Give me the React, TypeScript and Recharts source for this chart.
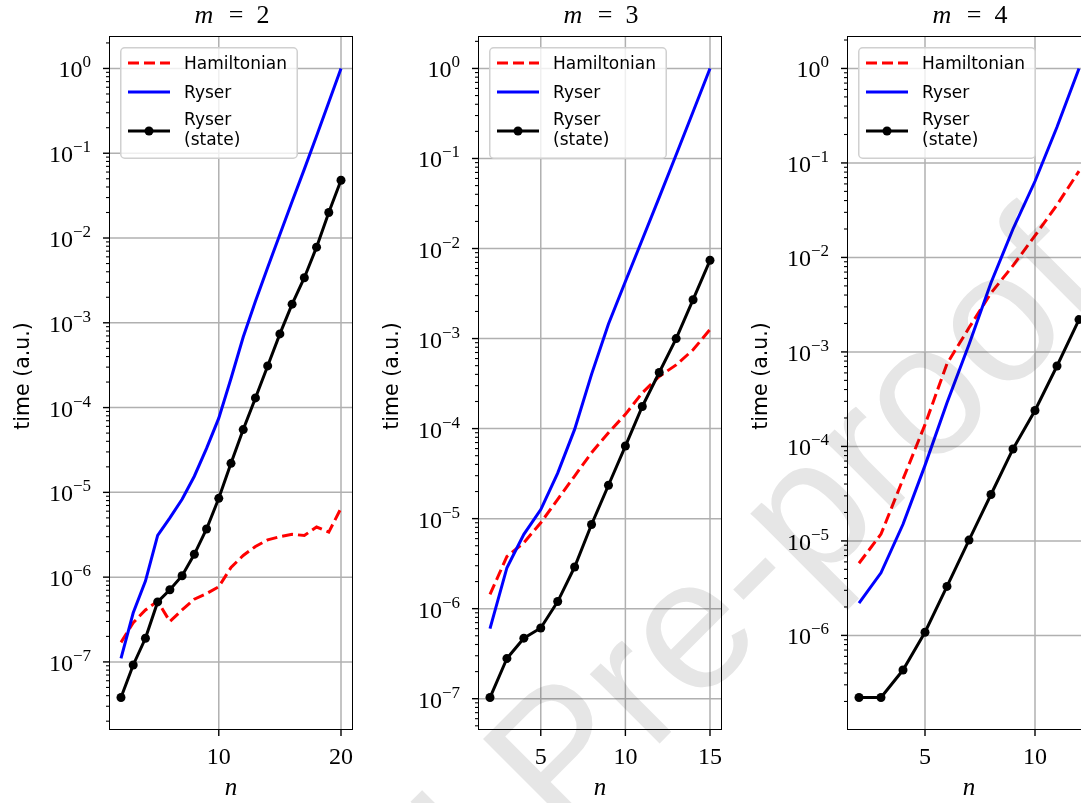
import React from 'react';
import { LineChart, Line, XAxis, YAxis, CartesianGrid, Legend } from 'recharts';

// n values per panel
const nM2 = [2, 3, 4, 5, 6, 7, 8, 9, 10, 11, 12, 13, 14, 15, 16, 17, 18, 19, 20];
const nM3 = [2, 3, 4, 5, 6, 7, 8, 9, 10, 11, 12, 13, 14, 15];
const nM4 = [2, 3, 4, 5, 6, 7, 8, 9, 10, 11, 12];

// m = 2
const hamM2 = [1.7e-7, 2.9e-7, 4.1e-7, 5.2e-7, 3.0e-7, 4.1e-7, 5.5e-7, 6.4e-7, 7.7e-7, 1.3e-6, 1.8e-6, 2.3e-6, 2.75e-6, 3.0e-6, 3.2e-6, 3.1e-6, 3.9e-6, 3.4e-6, 6.5e-6];
const ryserM2 = [1.1e-7, 3.8e-7, 9e-7, 3.1e-6, 5e-6, 8.3e-6, 1.55e-5, 3.3e-5, 7.5e-5, 2.2e-4, 6.8e-4, 1.8e-3, 4.5e-3, 1.1e-2, 2.7e-2, 6.5e-2, 0.16, 0.4, 1.0];
const stateM2 = [3.8e-8, 9.2e-8, 1.9e-7, 5.1e-7, 7.1e-7, 1.04e-6, 1.86e-6, 3.7e-6, 8.5e-6, 2.2e-5, 5.5e-5, 1.3e-4, 3.1e-4, 7.4e-4, 1.66e-3, 3.4e-3, 7.8e-3, 2.0e-2, 4.8e-2];

// m = 3
const hamM3 = [1.44e-6, 3.8e-6, 5.4e-6, 9.0e-6, 1.64e-5, 2.97e-5, 5.4e-5, 9.0e-5, 1.44e-4, 2.5e-4, 3.8e-4, 5.1e-4, 7.5e-4, 1.26e-3];
const ryserM3 = [6.0e-7, 2.85e-6, 6.7e-6, 1.26e-5, 3.2e-5, 9.8e-5, 4e-4, 1.45e-3, 4.3e-3, 1.26e-2, 3.7e-2, 0.11, 0.33, 1.0];
const stateM3 = [1.03e-7, 2.8e-7, 4.7e-7, 6.1e-7, 1.2e-6, 2.9e-6, 8.6e-6, 2.35e-5, 6.4e-5, 1.76e-4, 4.2e-4, 1.0e-3, 2.7e-3, 7.4e-3];

// m = 4
const hamM4 = [5.8e-6, 1.18e-5, 4.5e-5, 1.7e-4, 7.5e-4, 1.8e-3, 4.2e-3, 8.2e-3, 1.7e-2, 3.6e-2, 8.2e-2];
const ryserM4 = [2.2e-6, 4.6e-6, 1.5e-5, 6.3e-5, 2.9e-4, 1.2e-3, 5.4e-3, 2.0e-2, 6.4e-2, 0.24, 1.0];
const stateM4 = [2.2e-7, 2.2e-7, 4.3e-7, 1.08e-6, 3.3e-6, 1.02e-5, 3.1e-5, 9.4e-5, 2.4e-4, 7.1e-4, 2.2e-3];

const xTicksM2 = [10, 20];
const xTicksM3 = [5, 10, 15];
const xTicksM4 = [5, 10];

const seriesNames = ['Hamiltonian', 'Ryser', 'Ryser\n(state)'];

const SERIF = '"Liberation Serif", "DejaVu Serif", serif';
const SANS = '"DejaVu Sans", "Noto Sans", sans-serif';

const PLOT_W = 242;
const PLOT_H = 692;
const PLOT_TOP = 37;
const AXIS_W = 100;
const X_AXIS_H = 74;
const CHART_W = AXIS_W + PLOT_W + 20;
const CHART_H = PLOT_TOP + PLOT_H + X_AXIS_H;

function logDomain(values: number[]): [number, number] {
  const logs = values.map((v) => Math.log10(v));
  const lo = Math.min(...logs);
  const hi = Math.max(...logs);
  const pad = 0.05 * (hi - lo);
  return [10 ** (lo - pad), 10 ** (hi + pad)];
}

function linDomain(values: number[]): [number, number] {
  const lo = Math.min(...values);
  const hi = Math.max(...values);
  const pad = 0.05 * (hi - lo);
  return [lo - pad, hi + pad];
}

function logTicks([lo, hi]: [number, number]) {
  const out: number[] = [];
  for (let k = Math.floor(Math.log10(lo)); k <= Math.ceil(Math.log10(hi)); k++) {
    for (let m = 1; m < 10; m++) {
      const v = m * 10 ** k;
      if (v >= lo && v <= hi) out.push(v);
    }
  }
  return out;
}

function isDecade(v: number) {
  const e = Math.round(Math.log10(v));
  return Math.abs(v / 10 ** e - 1) < 1e-9;
}

const YTick = (props: any) => {
  const { y, payload } = props;
  const v = payload.value;
  const major = isDecade(v);
  const e = Math.round(Math.log10(v));
  return (
    <g>
      <line x1={AXIS_W} x2={AXIS_W - (major ? 7 : 4)} y1={y} y2={y} stroke="#000" strokeWidth={major ? 1.4 : 1.1} />
      {major && (
        <text x={AXIS_W - 19} y={y + 9} textAnchor="end" fontFamily={SERIF} fontSize={24} fill="#000">
          10
          <tspan dy={-10} fontSize={17}>{e < 0 ? '\u2212' + -e : String(e)}</tspan>
        </text>
      )}
    </g>
  );
};

const XTick = (props: any) => {
  const { x, payload } = props;
  const y0 = PLOT_TOP + PLOT_H;
  return (
    <g>
      <line x1={x} x2={x} y1={y0} y2={y0 + 7} stroke="#000" strokeWidth={1.4} />
      <text x={x} y={y0 + 35} textAnchor="middle" fontFamily={SERIF} fontSize={24} fill="#000">
        {payload.value}
      </text>
    </g>
  );
};

const LegendBox = () => {
  const rows = [
    { y: 16, color: '#ff0000', dash: '11 5', dot: false },
    { y: 45, color: '#0000ff', dash: undefined, dot: false },
    { y: 84, color: '#000000', dash: undefined, dot: true },
  ];
  return (
    <svg width={178} height={112} style={{ display: 'block' }}>
      <rect x={0.75} y={0.75} width={176.5} height={110.5} rx={4} fill="rgba(255,255,255,0.8)" stroke="#d0d0d0" strokeWidth={1.5} />
      {rows.map((r, i) => (
        <g key={i}>
          <line x1={8} x2={50} y1={r.y} y2={r.y} stroke={r.color} strokeWidth={3} strokeDasharray={r.dash} />
          {r.dot && <circle cx={29} cy={r.y} r={4.5} fill={r.color} />}
        </g>
      ))}
      <text fontFamily={SANS} fontSize={17} fill="#000">
        <tspan x={64} y={22}>{seriesNames[0]}</tspan>
        <tspan x={64} y={51}>{seriesNames[1]}</tspan>
        <tspan x={64} y={78}>{seriesNames[2].split('\n')[0]}</tspan>
        <tspan x={64} y={98}>{seriesNames[2].split('\n')[1]}</tspan>
      </text>
    </svg>
  );
};

function Panel({ m, left, n, ham, ryser, state, xTicks }: any) {
  const data = n.map((v: number, i: number) => ({ n: v, ham: ham[i], ryser: ryser[i], state: state[i] }));
  const yDomain = logDomain([...ham, ...ryser, ...state]);
  const xDomain = linDomain(n);
  const yTicks = logTicks(yDomain);
  const decades = yTicks.filter(isDecade);
  const cx = AXIS_W + PLOT_W / 2;
  return (
    <div style={{ position: 'absolute', left: left - AXIS_W, top: 0, width: CHART_W, height: CHART_H }}>
      <LineChart width={CHART_W} height={CHART_H} data={data} margin={{ top: PLOT_TOP, right: 20, left: 0, bottom: 0 }}>
        <CartesianGrid horizontalValues={decades} verticalValues={xTicks} stroke="#b0b0b0" strokeWidth={1.5} />
        <XAxis
          dataKey="n"
          type="number"
          domain={xDomain}
          ticks={xTicks}
          interval={0}
          allowDataOverflow
          height={X_AXIS_H}
          axisLine={false}
          tickLine={false}
          tick={<XTick />}
        />
        <YAxis
          type="number"
          scale="log"
          domain={yDomain}
          ticks={yTicks}
          interval={0}
          allowDataOverflow
          width={AXIS_W}
          axisLine={false}
          tickLine={false}
          tickSize={0}
          tickMargin={0}
          tick={<YTick />}
        />
        <Line dataKey="ham" name={seriesNames[0]} stroke="#ff0000" strokeWidth={3} strokeDasharray="11 5" dot={false} isAnimationActive={false} />
        <Line dataKey="ryser" name={seriesNames[1]} stroke="#0000ff" strokeWidth={3} dot={false} isAnimationActive={false} />
        <Line dataKey="state" name={seriesNames[2]} stroke="#000000" strokeWidth={3} dot={{ r: 4.5, fill: '#000', stroke: 'none' }} isAnimationActive={false} />
        <Legend
          layout="vertical"
          align="center"
          verticalAlign="middle"
          content={() => <LegendBox />}
          wrapperStyle={{ position: 'absolute', left: AXIS_W + 10, top: PLOT_TOP + 10, width: 178, height: 112 }}
        />
      </LineChart>
      <div
        style={{
          position: 'absolute',
          left: AXIS_W - 0.8,
          top: PLOT_TOP - 0.8,
          width: PLOT_W + 1.6,
          height: PLOT_H + 1.6,
          border: '1.6px solid #000',
          boxSizing: 'border-box',
          pointerEvents: 'none',
        }}
      />
      <svg width={CHART_W} height={CHART_H} style={{ position: 'absolute', left: 0, top: 0, pointerEvents: 'none' }}>
        <g fontFamily={SERIF} fontSize={26} fill="#000" textAnchor="middle">
          <text x={cx - 27} y={23} fontStyle="italic">m</text>
          <text x={cx + 5} y={23}>=</text>
          <text x={cx + 32} y={23}>{m}</text>
        </g>
        <text x={cx} y={795} textAnchor="middle" fontFamily={SERIF} fontSize={25} fontStyle="italic" fill="#000">
          n
        </text>
        <text
          x={AXIS_W - 88}
          y={376}
          textAnchor="middle"
          dominantBaseline="central"
          transform={`rotate(-90 ${AXIS_W - 88} 376)`}
          fontFamily={SANS}
          fontSize={20.5}
          fill="#000"
        >
          time (a.u.)
        </text>
      </svg>
    </div>
  );
}

export default function App() {
  return (
    <div style={{ position: 'fixed', left: 0, top: 0, width: 1081, height: 803, overflow: 'hidden', background: '#fff' }}>
      <Panel m={2} left={110} n={nM2} ham={hamM2} ryser={ryserM2} state={stateM2} xTicks={xTicksM2} />
      <Panel m={3} left={479} n={nM3} ham={hamM3} ryser={ryserM3} state={stateM3} xTicks={xTicksM3} />
      <Panel m={4} left={848} n={nM4} ham={hamM4} ryser={ryserM4} state={stateM4} xTicks={xTicksM4} />
      <svg width={1081} height={803} style={{ position: 'absolute', left: 0, top: 0, mixBlendMode: 'multiply', pointerEvents: 'none' }}>
        <text
          transform="translate(603 800) rotate(-45)"
          textAnchor="middle"
          fontFamily='"Liberation Sans", Arial, sans-serif'
          fontSize={186}
          fill="#e6e6e6"
        >
          Journal Pre-proof
        </text>
      </svg>
    </div>
  );
}
